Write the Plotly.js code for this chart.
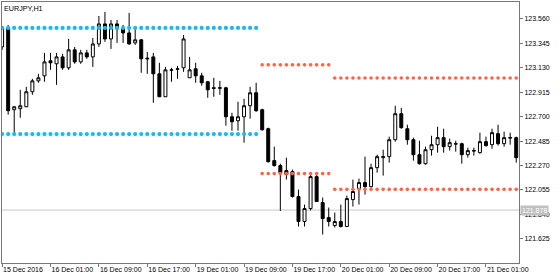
<!DOCTYPE html>
<html>
<head>
<meta charset="utf-8">
<script src="https://cdn.plot.ly/plotly-3.0.1.min.js"></script>
<style>html,body{margin:0;padding:0;background:#fff;}#chart{width:560px;height:280px;}</style>
</head>
<body>
<div id="chart"></div>
<script>
// ---- Data (EURJPY, H1) ----
const days = ['15 Dec', '16 Dec', '19 Dec', '20 Dec', '21 Dec'];
const firstHour = 17;   // first bar: 15 Dec 17:00
const lastHour = 6;     // last bar: 21 Dec 06:00

const open = [
  123.314,123.481,122.761,122.770,122.787,122.919,123.015,123.059,123.191,123.165,
  123.226,123.130,123.288,123.182,123.261,123.226,123.340,123.516,123.384,123.516,
  123.472,123.437,123.349,123.376,123.215,123.226,123.077,122.875,123.108,123.117,
  123.130,123.042,123.121,123.059,123.007,122.954,122.950,122.954,122.699,122.664,
  122.699,122.796,122.910,122.761,122.594,122.313,122.269,122.225,122.216,121.997,
  121.777,121.891,122.172,121.944,121.812,121.742,121.777,121.733,121.970,122.067,
  122.120,122.084,122.251,122.339,122.348,122.497,122.726,122.594,122.497,122.365,
  122.286,122.409,122.453,122.515,122.436,122.458,122.462,122.365,122.397,122.383,
  122.480,122.453,122.550,122.462,122.511,122.515];
const high = [
  123.498,123.507,122.790,122.936,122.963,123.033,123.077,123.261,123.261,123.261,
  123.253,123.384,123.314,123.288,123.288,123.393,123.586,123.622,123.551,123.551,
  123.507,123.613,123.481,123.384,123.270,123.261,123.174,123.138,123.130,123.147,
  123.419,123.226,123.174,123.086,123.015,123.042,123.015,122.963,122.734,122.831,
  122.857,122.963,122.998,122.770,122.603,122.436,122.286,122.339,122.234,122.058,
  121.926,122.190,122.190,121.988,121.900,121.856,121.926,122.005,122.146,122.155,
  122.348,122.286,122.365,122.409,122.524,122.796,122.778,122.629,122.515,122.488,
  122.436,122.532,122.611,122.594,122.506,122.488,122.471,122.427,122.427,122.559,
  122.524,122.594,122.629,122.568,122.559,122.524];
const low = [
  123.288,122.717,122.559,122.690,122.784,122.892,122.998,123.007,123.112,122.980,
  123.112,123.112,123.165,123.165,123.209,123.138,123.314,123.358,123.296,123.349,
  123.349,123.332,123.332,123.086,123.077,122.822,122.872,122.872,123.007,123.033,
  123.094,123.040,122.998,122.972,122.866,122.875,122.892,122.620,122.576,122.576,
  122.471,122.682,122.743,122.576,122.295,122.260,121.870,122.146,121.988,121.733,
  121.733,121.874,121.950,121.663,121.733,121.724,121.724,121.730,121.909,121.926,
  122.014,122.076,122.207,122.181,122.295,122.480,122.594,122.453,122.313,122.278,
  122.278,122.357,122.383,122.383,122.401,122.392,122.286,122.339,122.357,122.374,
  122.436,122.418,122.445,122.436,122.453,122.295];
const close = [
  123.481,122.752,122.787,122.796,122.919,123.015,123.042,123.182,123.174,123.226,
  123.130,123.288,123.182,123.261,123.226,123.340,123.516,123.384,123.516,123.472,
  123.437,123.340,123.376,123.209,123.209,123.077,122.875,123.112,123.112,123.121,
  123.384,123.112,123.059,122.998,122.936,122.950,122.954,122.699,122.655,122.699,
  122.796,122.910,122.752,122.585,122.304,122.269,122.207,122.190,121.997,121.777,
  121.891,122.172,121.953,121.803,121.777,121.777,121.733,121.979,122.041,122.120,
  122.084,122.251,122.348,122.348,122.497,122.726,122.603,122.497,122.365,122.286,
  122.409,122.453,122.515,122.436,122.471,122.462,122.365,122.401,122.401,122.480,
  122.445,122.559,122.462,122.515,122.515,122.339];

// channel levels (dotted indicator), per segment of bars
const segStart = [0, 43, 55];
const segEnd   = [42, 54, 85];
const segUpper = [123.481, 123.156, 123.040];
const segLower = [122.547, 122.199, 122.060];

const priceLine = 121.878;
const yTicks = [121.625, 121.840, 122.055, 122.270, 122.485, 122.700, 122.915, 123.130, 123.345, 123.560];
const xTickTimes = ['15 Dec 17:00','16 Dec 01:00','16 Dec 09:00','16 Dec 17:00','19 Dec 01:00','19 Dec 09:00',
                    '19 Dec 17:00','20 Dec 01:00','20 Dec 09:00','20 Dec 17:00','21 Dec 01:00'];
const xTickText  = ['15 Dec 2016','16 Dec 01:00','16 Dec 09:00','16 Dec 17:00','19 Dec 01:00','19 Dec 09:00',
                    '19 Dec 17:00','20 Dec 01:00','20 Dec 09:00','20 Dec 17:00','21 Dec 01:00'];

// ---- bar times ----
const times = [];
days.forEach((d, di) => {
  const h0 = di === 0 ? firstHour : 0;
  const h1 = di === days.length - 1 ? lastHour : 23;
  for (let h = h0; h <= h1; h++) times.push(d + ' ' + String(h).padStart(2, '0') + ':00');
});

const FONT = 'Liberation Sans, Arial, sans-serif';
const traces = [{
  type: 'candlestick', x: times, open: open, high: high, low: low, close: close,
  increasing: {line: {color: '#000', width: 1}, fillcolor: '#fff'},
  decreasing: {line: {color: '#000', width: 1}, fillcolor: '#000'},
  whiskerwidth: 0, hoverinfo: 'skip'
}];
const segColors = ['#1DB7F2', '#FF6347', '#FF6347'];
const segSizes = [4.2, 3.6, 3.6];
for (let s = 0; s < segStart.length; s++) {
  const xs = times.slice(segStart[s], segEnd[s] + 1);
  [segUpper[s], segLower[s]].forEach(v => {
    traces.push({type: 'scatter', mode: 'markers', x: xs, y: xs.map(() => v),
      marker: {color: segColors[s], size: segSizes[s]}, hoverinfo: 'skip'});
  });
}

const layout = {
  width: 560, height: 280,
  margin: {l: 2, r: 41, t: 2, b: 17},
  paper_bgcolor: '#fff', plot_bgcolor: '#fff',
  showlegend: false,
  font: {family: FONT, size: 7, color: '#000'},
  title: {text: 'EURJPY,H1', x: 4/560, xanchor: 'left', xref: 'container',
          y: 1 - 8/280, yanchor: 'middle', yref: 'container',
          font: {family: FONT, size: 7.2, color: '#000'}},
  xaxis: {type: 'category', range: [-0.02, 85.46], rangeslider: {visible: false},
          showgrid: false, zeroline: false, showline: true, mirror: true, linecolor: '#777', linewidth: 1,
          ticks: 'outside', ticklen: 3, tickcolor: '#777', tickangle: 0, automargin: false,
          tickvals: xTickTimes, ticktext: xTickText, ticklabelposition: 'outside right',
          tickfont: {family: FONT, size: 7, color: '#000'}, fixedrange: true},
  yaxis: {side: 'right', range: [121.412, 123.709], showgrid: false, zeroline: false,
          showline: true, mirror: true, linecolor: '#777', linewidth: 1,
          ticks: 'outside', ticklen: 3, tickcolor: '#777', automargin: false,
          tickvals: yTicks, tickformat: '.3f',
          tickfont: {family: FONT, size: 7, color: '#000'}, fixedrange: true},
  shapes: [{type: 'line', xref: 'paper', x0: 0, x1: 1, yref: 'y', y0: priceLine, y1: priceLine,
            line: {color: '#C8C8C8', width: 1}, layer: 'below'}],
  annotations: [{xref: 'paper', x: 1, xanchor: 'left', xshift: 1, yref: 'y', y: priceLine, yanchor: 'middle',
                 text: priceLine.toFixed(3), showarrow: false, bgcolor: '#C0C0C0', borderpad: 1,
                 font: {family: FONT, size: 7, color: '#fff'}}]
};
Plotly.newPlot('chart', traces, layout, {staticPlot: true, displayModeBar: false});
</script>
</body>
</html>
